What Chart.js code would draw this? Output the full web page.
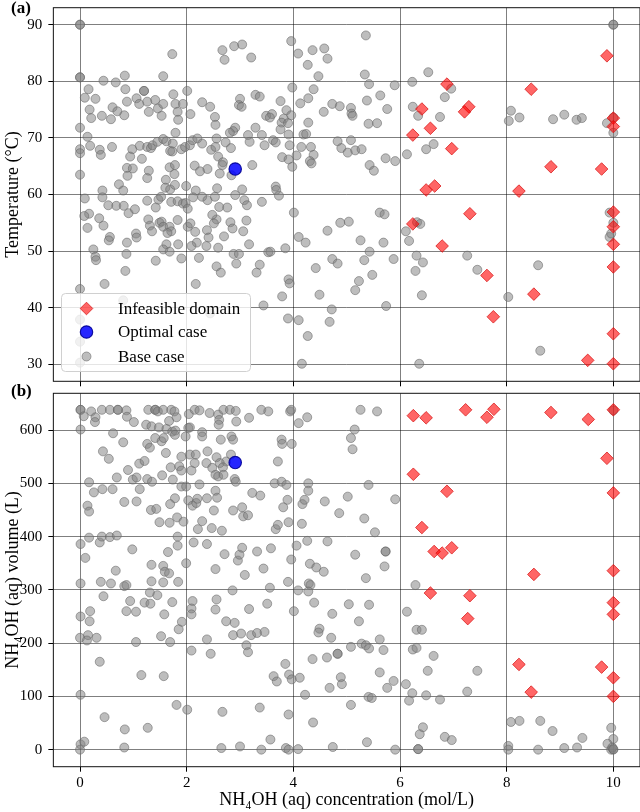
<!DOCTYPE html>
<html><head><meta charset="utf-8">
<script src="https://cdn.jsdelivr.net/npm/chart.js@4.4.1/dist/chart.umd.min.js"></script>
<style>
html,body{margin:0;padding:0;background:#fff;width:640px;height:812px;overflow:hidden}
#c1{position:absolute;left:0;top:0}
#c2{position:absolute;left:0;top:380px}
</style></head><body>
<canvas id="c1" width="640" height="390"></canvas>
<canvas id="c2" width="640" height="432"></canvas>
<script>
// ---------- DATA ----------
const xTicks = [0, 2, 4, 6, 8, 10];
const tempTicks = [30, 40, 50, 60, 70, 80, 90];
const volTicks = [0, 100, 200, 300, 400, 500, 600];
const legendLabels = ["Infeasible domain", "Optimal case", "Base case"];

// panel (a): [NH4OH concentration (mol/L), temperature (°C)]
const baseTemp = [
[0,90],[0,90],[0,80.7],[0,80.7],[1.73,84.8],[2.67,85.5],[2.71,83.8],[2.89,86.2],[3.04,86.5],[3.21,84.2],[3.96,87.1],[4.09,84.9],[4.36,85.5],[4.27,82.9],[4.58,85.8],[4.64,84.0],[4.47,80.9],
[0.44,80.1],[0.67,79.8],[0.84,81.0],[0.85,78.6],[1.56,80.9],[0.16,78.6],[0.09,77.1],[0.29,76.9],[0.18,75.0],[0.21,73.5],[0.41,73.9],[0.58,73.3],[0.61,75.4],[0.70,74.7],[0.83,74.0],[0.88,76.4],[1.06,77.0],[1.20,78.3],[1.20,78.3],[1.11,76.0],[1.26,76.4],[1.29,74.6],[1.41,76.7],[1.46,75.2],[1.56,76.0],[1.53,73.9],[1.75,77.7],[1.79,76.0],[1.83,74.6],[1.84,73.2],[1.93,76.0],[2.01,78.3],[2.07,74.2],
[2.29,76.3],[2.44,75.5],[2.53,73.7],[2.54,72.3],[3.00,76.9],[2.98,75.8],[3.03,75.5],[3.29,77.6],[3.37,77.3],[3.76,76.5],[3.87,74.9],[3.96,74.0],[3.98,78.9],[4.38,78.6],[4.13,76.1],[4.28,77.0],[4.73,76.0],[4.87,75.6],[4.57,74.6],[3.49,73.9],[3.60,74.2],[3.56,73.6],[3.82,73.4],[3.78,72.7],[3.90,72.6],[4.28,72.7],[3.76,71.5],[3.29,71.8],[2.91,71.8],[2.87,71.2],[2.81,70.9],[3.15,70.5],[3.41,70.5],[3.62,69.6],[3.91,70.6],[4.19,70.6],[4.24,70.7],[4.83,69.4],[4.90,68.2],[3.18,69.3],[3.46,68.7],[3.67,69.2],[3.93,68.7],[4.15,68.4],[4.33,68.4],[4.38,67.0],[4.31,65.9],[4.34,65.5],[4.06,66.9],[3.79,66.6],[3.91,66.2],[3.98,64.9],[3.23,65.2],
[0,71.8],[0.14,70.2],[0,68.0],[0,67.3],[0.19,68.6],[0.37,67.9],[0.39,67.0],[0.60,68.4],[0.98,68.0],[0.94,66.7],[1.16,66.3],[1.12,68.6],[1.26,68.4],[1.33,68.2],[1.36,68.7],[1.45,69.3],[1.56,69.8],[1.62,69.4],[1.69,67.7],[1.74,69.0],[1.73,67.6],[1.79,70.9],[1.90,68.0],[1.97,68.4],[2.06,68.7],[2.11,69.6],[2.20,69.9],[2.29,69.0],[2.46,67.9],[2.54,68.4],[2.56,69.9],[2.73,69.2],[2.83,68.2],[2.59,66.7],[2.68,65.7],[2.67,65.2],[2.62,63.7],[2.84,63.4],
[0,63.5],[0.88,64.7],[0.99,64.6],[1.29,64.2],[1.26,62.9],[1.68,64.8],[1.78,65.2],[1.77,63.6],[2.15,65.1],[2.25,64.1],[2.39,64.5],[0.89,63.3],[0.73,61.8],[0.42,60.7],[0.81,60.7],[1.61,62.6],[1.60,61.2],[1.69,60.9],[1.78,61.7],[1.99,61.5],[2.17,60.7],[2.57,61.1],[3.04,60.9],[3.67,61.4],[3.68,60.8],
[5.36,88.1],[5.34,81.2],[5.42,79.5],[5.90,79.3],[6.23,79.9],[6.53,81.6],[6.96,78.7],[6.84,77.2],[5.63,77.5],[5.38,76.6],[5.76,75.1],[5.08,75.3],[5.09,74.3],[5.11,73.9],[5.41,72.5],[5.57,72.6],[6.24,75.5],[6.34,73.9],[6.75,73.7],[5.08,69.6],[5.02,67.4],[5.16,67.8],[5.28,68.0],[6.49,68.0],[6.63,68.9],[6.13,67.1],[5.73,66.4],[5.91,65.9],[5.43,65.2],[5.51,64.2],
[8.08,74.8],[8.04,73.0],[8.24,73.6],[8.87,73.3],[9.08,74.1],[9.31,73.2],[9.41,73.5],[10,90],[10,90],[10,73.6],[9.88,72.6],[10,70.9],
[0.09,59.3],[0.42,59.5],[0.53,58.1],[0.68,58.0],[0.82,58.0],[0.91,56.7],[1.03,57.4],[1.26,58.9],[1.42,57.7],[1.47,59.1],[1.52,59.6],[1.71,58.7],[1.83,58.8],[1.93,58.4],[1.98,58.5],[2.02,57.5],[2.12,59.5],[2.29,59.6],[2.39,59.0],[2.53,59.6],[2.61,57.8],[2.76,57.7],[2.91,59.9],[3.08,59.0],[3.13,58.1],[3.41,58.7],[3.73,59.8],[4.01,56.8],
[0.17,56.6],[0.08,56.2],[0.14,54.1],[0.36,55.8],[0.44,54.5],[0.56,52.5],[0.54,51.9],[0.88,51.5],[1.05,53.1],[1.06,52.4],[0.87,49.5],[0.85,46.5],[0.46,44.2],[0.25,50.3],[0.29,49.0],[0.30,48.4],[1.28,55.6],[1.31,54.5],[1.35,53.5],[1.49,55.0],[1.53,55.2],[1.56,54.3],[1.68,54.3],[1.71,53.5],[1.64,53.2],[1.62,51.2],[1.56,50.3],[1.68,49.9],[1.42,48.3],[1.84,51.2],[1.83,55.5],
[2.02,54.3],[2.07,54.9],[2.16,53.4],[2.19,51.5],[2.09,50.9],[1.90,48.7],[2.23,48.8],[2.17,44.2],[2.38,53.7],[2.41,52.4],[2.37,50.9],[2.56,55.6],[2.48,56.4],[2.51,54.9],[2.70,52.6],[2.59,50.6],[2.82,55.1],[2.86,54.0],[3.06,53.5],[3.12,55.4],[3.17,51.2],[2.88,49.5],[2.98,49.5],[2.93,47.8],[2.56,47.3],[2.64,46.2],[3.31,46.2],[3.37,47.6],[3.53,49.8],[3.57,49.9],[3.85,50.5],[4.10,52.5],[4.23,51.5],
[3.91,45.0],[3.93,44.3],[3.79,42.0],[3.44,40.4],[3.90,38.1],[4.10,37.8],[4.27,35.0],[4.16,30.1],[4.49,42.3],[4.72,39.7],[4.68,37.5],[4.42,47.0],[4.64,53.6],[4.73,48.6],[4.83,47.8],[4.88,55.0],[0,43.3],[0.81,41.3],[2.44,39.0],[0,37.9],[0,34.0],[0,30.3],
[5.62,56.8],[5.71,56.5],[5.04,55.2],[5.26,51.9],[5.69,51.5],[5.43,49.9],[5.33,48.4],[5.88,48.6],[5.23,44.7],[5.16,43.1],[5.48,45.8],[5.74,40.3],[6.32,55.1],[6.38,54.8],[6.11,53.5],[6.17,51.8],[6.31,49.2],[6.43,48.0],[6.29,46.5],[6.41,42.2],[7.26,49.2],[7.45,46.7],[8.03,41.9],[8.59,47.5],[8.63,32.4],[6.36,30.1],[9.93,56.8],[10,55.0],[9.93,52.5],[9.96,53.1]
];
const infeasibleTemp = [
[9.88,84.5],[8.46,78.6],[6.88,79.5],[7.29,75.5],[7.21,74.6],[6.41,75.1],[6.57,71.7],[6.24,70.5],[6.97,68.1],[8.83,64.9],[9.78,64.5],[10,73.5],[10,72.0],[6.49,60.8],[6.65,61.5],[8.23,60.6],[7.31,56.6],[6.24,54.8],[6.79,50.9],[7.63,45.7],[8.51,42.4],[7.75,38.4],[9.52,30.7],[10,56.9],[10,54.3],[10,51.2],[10,47.2],[10,35.4],[10,30.1]
];
const optimalTemp = [[2.91,64.5]];

// panel (b): [NH4OH concentration (mol/L), NH4OH volume (L)]
const baseVol = [
[0.01,638],[0.01,638],[0.07,626],[0.21,635],[0.29,624],[0.28,615],[0.41,638],[0.56,638],[0.71,638],[0.71,638],[0.87,637],[0.88,625],[1.01,615],[1.28,638],[1.41,638],[1.41,638],[1.46,635],[1.56,638],[1.71,638],[1.77,635],[1.81,624],[1.67,617],[2.04,630],[2.15,638],[2.24,637],[2.43,632],[2.59,629],[2.61,619],[2.60,610],[2.69,638],[2.81,638],[2.92,636],[2.93,616],[3.17,623],[3.40,638],[3.53,635],[3.94,635],[3.96,638],[4.10,613],[4.26,624],
[1.24,610],[1.34,607],[1.48,605],[1.62,602],[1.73,597],[1.79,599],[2.03,604],[2.06,605],[2.29,596],[0.01,601],[0.62,594],
[0.81,577],[1.26,574],[1.31,567],[1.41,585],[1.53,579],[1.57,585],[1.78,591],[1.98,588],[2.29,588],[2.64,582],[2.84,588],[2.87,582],[3.78,582],[3.79,574],[3.97,574],
[0.43,560],[0.54,546],[1.61,557],[1.90,550],[2.06,554],[2.17,554],[2.39,560],[2.56,549],[2.74,541],[1.11,537],[1.21,542],[0.90,525],[1.70,530],[1.86,532],[1.90,524],[2.09,524],[2.15,538],[2.37,538],[2.48,529],[2.62,538],[2.68,530],[2.83,554],[3.71,541],
[0.69,511],[0.99,507],[1.06,511],[1.26,508],[1.35,503],[1.54,515],[1.74,507],[1.90,494],[1.99,494],[2.24,498],[2.54,516],[2.59,513],[2.69,516],[2.90,508],[2.92,503],[3.65,500],[3.78,503],[3.87,497],[4.28,500],[0.17,502],[0.26,483],[0.42,489],[0.61,489],[1.12,489],
[2.54,486],[2.57,473],[3.23,482],[3.38,477],[1.78,472],[1.69,461],[2.03,468],[2.11,458],[2.18,463],[2.20,471],[2.38,472],[0.83,465],[1.06,466],[1.33,450],[1.43,452],[0.14,458],[0.17,447],[2.51,449],[2.87,449],[3.04,455],[3.06,438],[3.15,440],[3.81,455],[3.89,469],[4.17,461],[4.21,469],[4.28,486],[4.59,466],[4.86,444],
[1.82,436],[1.94,428],[1.68,426],[1.49,427],[2.29,429],[2.21,414],[2.47,416],[2.66,411],[3.67,414],[3.71,422],[3.91,427],[4.16,424],
[0.01,386],[0.17,398],[0.37,389],[0.41,400],[0.56,399],[0.69,402],[0.98,376],[1.83,400],[1.83,383],[1.65,371],[2.13,389],[2.38,386],[2.71,367],[2.96,355],[2.99,366],[3.04,379],[3.32,372],[3.58,378],[4.06,383],[4.26,392],[4.64,391],
[0.10,360],[0.67,336],[1.34,347],[1.56,345],[1.59,334],[1.67,331],[1.99,350],[2.54,339],[3.09,328],[3.44,340],[3.96,357],[4.31,349],[4.43,342],[4.57,334],
[0.01,312],[0.39,315],[0.58,312],[0.83,307],[0.87,309],[1.34,316],[1.56,314],[1.84,315],[3.90,315],[4.29,312],[4.32,309],[1.31,295],[1.45,290],[0.44,288],[0.94,279],[1.21,276],[1.32,274],[1.73,277],[0.87,260],[1.05,259],[0.19,260],[0.18,241],[0.01,250],[1.58,254],[1.91,240],[1.85,226],
[2.11,279],[2.09,265],[2.09,254],[2.56,282],[2.54,263],[2.86,299],[3.17,264],[3.56,304],[3.51,274],[4.09,299],[4.28,297],[4.39,276],[4.01,260],[4.73,255],[4.49,227],[4.47,220],[4.71,210],[2.74,241],[2.90,238],[2.87,215],[3.02,218],[3.21,215],[3.32,219],[3.46,221],[3.12,196],[3.15,183],
[0,210],[0.15,215],[0.13,205],[0.31,210],[1.05,202],[1.52,213],[1.69,202],[2.38,207],[2.09,186],[2.45,180],[0.37,165],[1.15,140],[1.57,138],[0.01,103],[1.81,84],[2.01,75],[2.67,71],[3.37,79],[3.91,66],[0.46,61],[0.84,38],[1.27,41],
[0.01,10],[0.08,15],[0,0],[0.83,4],[2.65,3],[3.00,6],[3.40,0],[3.57,19],[3.86,3],[3.91,0],[4.09,1],[4.74,5],[3.85,161],[3.92,141],[3.97,132],[4.12,135],[3.63,138],[3.69,128],[4.22,103],[4.37,51],[4.36,170],[4.63,173],[4.83,180],[4.83,180],[4.89,136],[4.91,123],[4.68,116],
[5.26,638],[5.57,635],[5.15,601],[5.08,585],[5.11,564],[5.41,497],[5.02,475],[5.91,470],[5.33,434],[5.53,408],[5.16,366],[5.73,372],[5.73,372],[5.71,344],[5.36,322],
[6.29,309],[5.04,273],[5.42,272],[6.13,259],[5.23,241],[6.31,225],[6.41,225],[5.62,207],[5.28,199],[5.36,196],[5.08,193],[5.42,190],[5.69,187],[6.24,188],[6.31,191],[6.63,176],[6.52,148],[7.45,148],[5.62,145],[5.88,129],[5.76,116],[6.11,123],[6.23,106],[6.17,92],[6.49,102],[6.75,94],[7.26,109],[5.41,99],[5.47,97],[5.08,84],
[6.43,42],[6.37,29],[6.84,24],[6.97,18],[5.38,14],[5.91,0],[6.34,1],[6.34,1],[8.08,52],[8.24,54],[8.63,54],[8.86,35],[9.42,22],[9.32,4],[9.08,3],[8.59,0],[8.03,7],[8.03,0],[9.96,41],[10,20],[9.89,11],[9.96,0],[10,0],[9.98,4],[10,1],[10,637]
];
const infeasibleVol = [
[6.25,627],[6.49,623],[7.23,638],[7.76,639],[7.63,624],[8.83,633],[9.53,620],[10,638],[9.88,547],[6.25,517],[6.88,485],[10,482],[6.41,417],[6.64,372],[6.79,369],[6.97,379],[8.51,329],[10,336],[6.57,294],[7.31,289],[7.27,246],[10,276],[10,254],[8.23,160],[9.78,155],[10,135],[8.46,108],[10,100]
];
const optimalVol = [[2.91,539]];

// ---------- STYLE ----------
const SERIF = "'Liberation Serif', 'Times New Roman', serif";
const GRID = 'rgba(0,0,0,0.5)';
const styles = {
  infeasible: {pointStyle: 'rectRot', pointRadius: 6.3, backgroundColor: 'rgba(255,0,0,0.6)', borderColor: 'rgba(215,20,20,0.75)', borderWidth: 1},
  optimal: {pointStyle: 'circle', pointRadius: 6.2, backgroundColor: 'rgba(0,0,255,0.85)', borderColor: 'rgba(0,0,150,0.9)', borderWidth: 1.2},
  base: {pointStyle: 'circle', pointRadius: 4.5, backgroundColor: 'rgba(128,128,128,0.52)', borderColor: 'rgba(100,100,100,0.55)', borderWidth: 1}
};
const toXY = arr => arr.map(p => ({x: p[0], y: p[1]}));

function datasets(base, inf, opt) {
  return [
    Object.assign({label: legendLabels[0], data: toXY(inf), order: 2}, styles.infeasible),
    Object.assign({label: legendLabels[1], data: toXY(opt), order: 1}, styles.optimal),
    Object.assign({label: legendLabels[2], data: toXY(base), order: 3}, styles.base)
  ].map(d => Object.assign(d, {pointHoverRadius: d.pointRadius}));
}

const framePlugin = {
  id: 'frame',
  afterDatasetsDraw(chart) {
    const {ctx, chartArea: a} = chart;
    ctx.save();
    ctx.strokeStyle = '#111';
    ctx.lineWidth = 1;
    ctx.strokeRect(a.left, a.top, a.right - a.left, a.bottom - a.top);
    ctx.restore();
  },
  afterDraw(chart, args, opts) {
    const ctx = chart.ctx;
    ctx.save();
    ctx.fillStyle = '#000';
    ctx.font = "bold 17px " + SERIF;
    ctx.textBaseline = 'middle';
    ctx.textAlign = 'left';
    ctx.fillText(opts.panel, opts.px, opts.py);
    if (opts.legend) drawLegend(ctx);
    ctx.restore();
  }
};

function roundRect(ctx, x, y, w, h, r) {
  ctx.beginPath();
  ctx.moveTo(x + r, y); ctx.lineTo(x + w - r, y); ctx.arcTo(x + w, y, x + w, y + r, r);
  ctx.lineTo(x + w, y + h - r); ctx.arcTo(x + w, y + h, x + w - r, y + h, r);
  ctx.lineTo(x + r, y + h); ctx.arcTo(x, y + h, x, y + h - r, r);
  ctx.lineTo(x, y + r); ctx.arcTo(x, y, x + r, y, r); ctx.closePath();
}

function drawLegend(ctx) {
  const bx = 61.5, by = 293.5, bw = 189, bh = 78;
  roundRect(ctx, bx, by, bw, bh, 4);
  ctx.fillStyle = 'rgba(255,255,255,0.8)';
  ctx.fill();
  ctx.strokeStyle = '#d0d0d0';
  ctx.lineWidth = 1;
  ctx.stroke();
  const rows = [308.5, 332, 356.5];
  const keys = ['infeasible', 'optimal', 'base'];
  keys.forEach((k, i) => {
    const s = styles[k];
    const cx = 86.5, cy = rows[i];
    ctx.fillStyle = s.backgroundColor;
    ctx.strokeStyle = s.borderColor;
    ctx.lineWidth = s.borderWidth;
    ctx.beginPath();
    if (s.pointStyle === 'rectRot') {
      const r = s.pointRadius;
      ctx.moveTo(cx - r, cy); ctx.lineTo(cx, cy - r); ctx.lineTo(cx + r, cy); ctx.lineTo(cx, cy + r); ctx.closePath();
    } else {
      ctx.arc(cx, cy, s.pointRadius, 0, Math.PI * 2);
    }
    ctx.fill(); ctx.stroke();
    ctx.fillStyle = '#000';
    ctx.font = "17px " + SERIF;
    ctx.textBaseline = 'middle';
    ctx.textAlign = 'left';
    ctx.fillText(legendLabels[i], 118, cy + 1);
  });
}

function makeChart(id, cfg) {
  return new Chart(document.getElementById(id), {
    type: 'scatter',
    data: {datasets: datasets(cfg.base, cfg.inf, cfg.opt)},
    options: {
      responsive: false, animation: false, devicePixelRatio: 1,
      layout: {autoPadding: false, padding: {top: cfg.padTop, left: 0, right: 0, bottom: 0}},
      plugins: {legend: {display: false}, tooltip: {enabled: false},
        frame: {panel: cfg.panel, px: 11, py: cfg.panelY, legend: cfg.legend}},
      scales: {
        x: {
          type: 'linear', min: -0.5, max: 10.5,
          afterBuildTicks: s => { s.ticks = xTicks.map(v => ({value: v})); },
          afterFit: s => { s.height = cfg.xHeight; s.paddingLeft = 0; s.paddingRight = 0; },
          ticks: {display: cfg.xLabels, color: '#000', font: {family: SERIF, size: 15, lineHeight: 1}, padding: 4, maxRotation: 0, autoSkip: false},
          grid: {color: GRID, lineWidth: 1, tickColor: '#000', tickLength: 5, drawTicks: true},
          border: {display: false},
          title: {display: cfg.xLabels, text: 'NH₄OH (aq) concentration (mol/L)', color: '#000', font: {family: SERIF, size: 18, lineHeight: 1.2}, padding: {top: 0, bottom: 1}}
        },
        y: {
          type: 'linear', min: cfg.yMin, max: cfg.yMax,
          afterBuildTicks: s => { s.ticks = cfg.yTicks.map(v => ({value: v})); },
          afterFit: s => { s.width = 53.35; s.paddingTop = 0; s.paddingBottom = 0; },
          ticks: {color: '#000', font: {family: SERIF, size: 15}, padding: 6},
          grid: {color: GRID, lineWidth: 1, tickColor: '#000', tickLength: 5, drawTicks: true},
          border: {display: false},
          title: {display: true, text: cfg.yTitle, color: '#000', font: {family: SERIF, size: 18, lineHeight: 1.2}, padding: {top: 2, bottom: 0}}
        }
      }
    },
    plugins: [framePlugin]
  });
}

makeChart('c1', {base: baseTemp, inf: infeasibleTemp, opt: optimalTemp, yMin: 27, yMax: 93, yTicks: tempTicks,
  yTitle: 'Temperature (°C)', padTop: 7.7, xHeight: 8.7, xLabels: false, panel: '(a)', panelY: 8.5, legend: true});
makeChart('c2', {base: baseVol, inf: infeasibleVol, opt: optimalVol, yMin: -32, yMax: 669, yTicks: volTicks,
  yTitle: 'NH₄OH (aq) volume (L)', padTop: 13.3, xHeight: 45.3, xLabels: true, panel: '(b)', panelY: 11.5, legend: false});
</script>
</body></html>
